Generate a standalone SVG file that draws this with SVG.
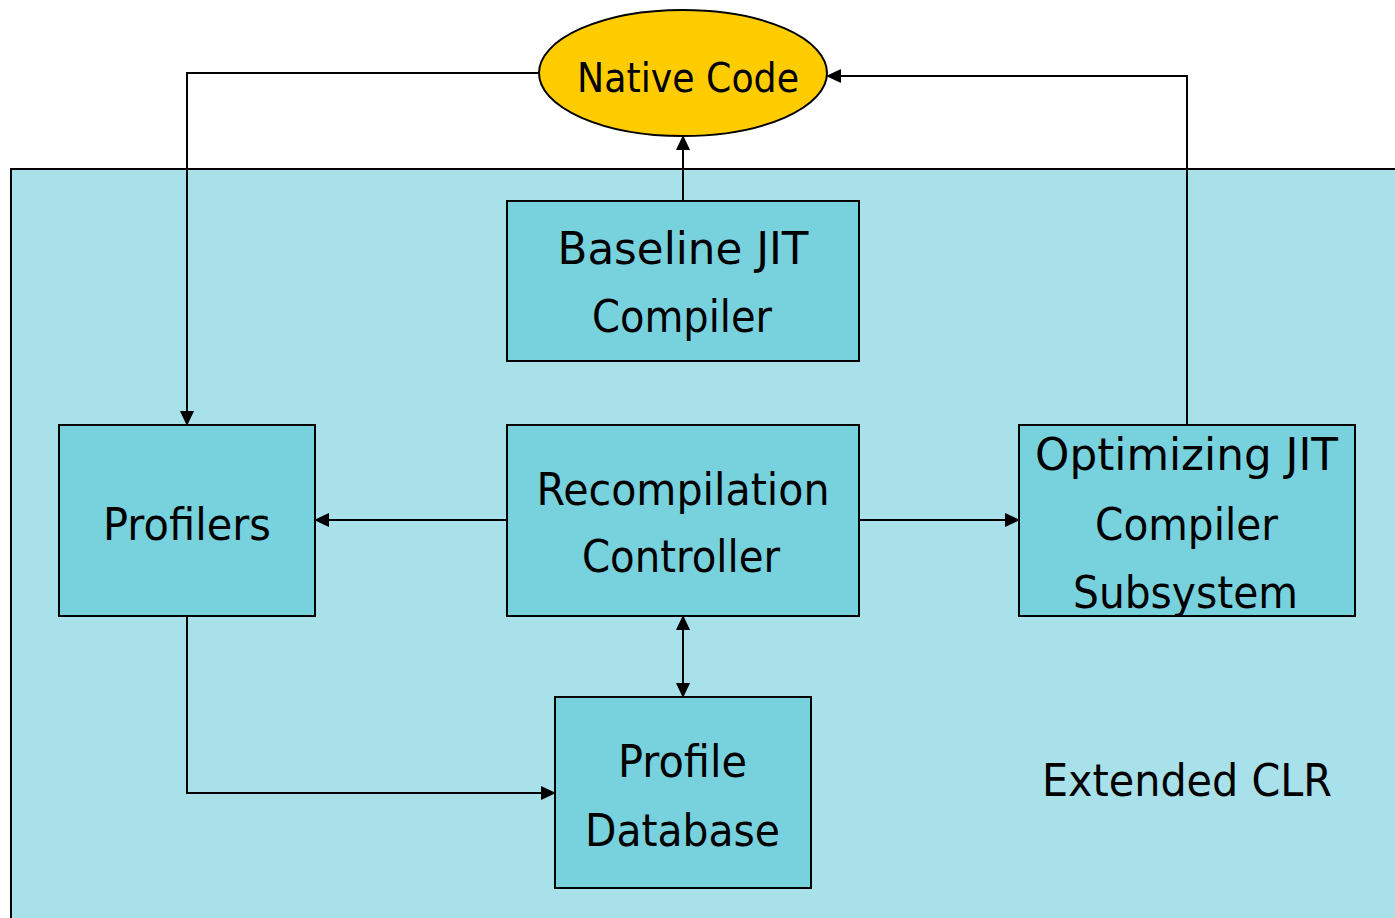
<svg xmlns="http://www.w3.org/2000/svg" width="1395" height="918" viewBox="0 0 1395 918">
<style>
.box{fill:#78D2DD;stroke:#000;stroke-width:2}
.t{font-family:"DejaVu Sans","Liberation Sans",sans-serif;font-size:44px;fill:#000;text-anchor:middle}
.c{fill:none;stroke:#000;stroke-width:2}
</style>
<defs>
<marker id="ah" markerUnits="userSpaceOnUse" markerWidth="16" markerHeight="14" refX="14" refY="7" orient="auto-start-reverse">
<path d="M0,0 L15,7 L0,14 z" fill="#000"/>
</marker>
</defs>
<rect width="1395" height="918" fill="#fff"/>
<g id="extended-clr">
<rect x="11" y="169" width="1400" height="760" fill="#A9E1EA" stroke="#000" stroke-width="2"/>
<text class="t" x="1187" y="796" textLength="290" lengthAdjust="spacingAndGlyphs">Extended CLR</text>
</g>
<g id="native-code">
<ellipse cx="683" cy="73" rx="144" ry="63" fill="#FFCC00" stroke="#000" stroke-width="2"/>
<text class="t" x="688" y="92" font-size="40" textLength="222" lengthAdjust="spacingAndGlyphs" style="font-size:40px">Native Code</text>
</g>
<g id="baseline-jit">
<rect class="box" x="507" y="201" width="352" height="160"/>
<text class="t" x="683" y="264" textLength="251" lengthAdjust="spacingAndGlyphs">Baseline JIT</text>
<text class="t" x="682" y="332" textLength="180" lengthAdjust="spacingAndGlyphs">Compiler</text>
</g>
<g id="profilers">
<rect class="box" x="59" y="425" width="256" height="191"/>
<text class="t" x="187" y="540" textLength="168" lengthAdjust="spacingAndGlyphs">Profilers</text>
</g>
<g id="recompilation-controller">
<rect class="box" x="507" y="425" width="352" height="191"/>
<text class="t" x="683" y="505" textLength="293" lengthAdjust="spacingAndGlyphs">Recompilation</text>
<text class="t" x="681" y="572" textLength="198" lengthAdjust="spacingAndGlyphs">Controller</text>
</g>
<g id="optimizing-jit">
<rect class="box" x="1019" y="425" width="336" height="191"/>
<text class="t" x="1186.5" y="470" textLength="303" lengthAdjust="spacingAndGlyphs">Optimizing JIT</text>
<text class="t" x="1186.5" y="540" textLength="183" lengthAdjust="spacingAndGlyphs">Compiler</text>
<text class="t" x="1185.5" y="608" textLength="225" lengthAdjust="spacingAndGlyphs">Subsystem</text>
</g>
<g id="profile-database">
<rect class="box" x="555" y="697" width="256" height="191"/>
<text class="t" x="682.5" y="777" textLength="129" lengthAdjust="spacingAndGlyphs">Profile</text>
<text class="t" x="682.5" y="846" textLength="195" lengthAdjust="spacingAndGlyphs">Database</text>
</g>
<g id="connectors">
<polyline class="c" points="539,73 187,73 187,425" marker-end="url(#ah)"/>
<polyline class="c" points="1187,425 1187,76 827,76" marker-end="url(#ah)"/>
<line class="c" x1="683" y1="201" x2="683" y2="136" marker-end="url(#ah)"/>
<line class="c" x1="507" y1="520" x2="315" y2="520" marker-end="url(#ah)"/>
<line class="c" x1="859" y1="520" x2="1019" y2="520" marker-end="url(#ah)"/>
<line class="c" x1="683" y1="616" x2="683" y2="697" marker-start="url(#ah)" marker-end="url(#ah)"/>
<polyline class="c" points="187,616 187,793 555,793" marker-end="url(#ah)"/>
</g>
</svg>
